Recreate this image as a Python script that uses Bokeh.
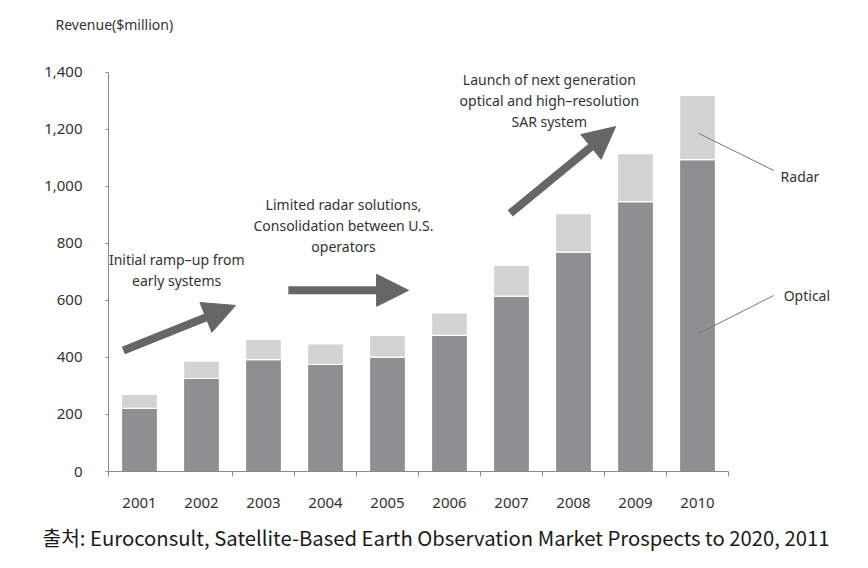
from bokeh.plotting import figure
from bokeh.models import Range1d, FixedTicker, NumeralTickFormatter, Label, Arrow, NormalHead, ColumnDataSource, Title
from bokeh.embed import file_html
from bokeh.resources import INLINE

# ---- data ----
years = ["2001", "2002", "2003", "2004", "2005", "2006", "2007", "2008", "2009", "2010"]
optical = [221, 326, 392, 375, 401, 477, 615, 769, 946, 1093]
total = [270, 387, 463, 447, 477, 556, 722, 904, 1114, 1318]
radar = [t - o for t, o in zip(total, optical)]
y_ticks = [0, 200, 400, 600, 800, 1000, 1200, 1400]

# ---- annotation texts / placement (data units) ----
ramp_lines = ["Initial ramp\u2013up from", "early systems"]
ramp_pos = (1.10, 708)
ramp_arrow = (0.24, 424, 2.05, 582)
cons_lines = ["Limited radar solutions,", "Consolidation between U.S.", "operators"]
cons_pos = (3.79, 864)
cons_arrow = (2.90, 635, 4.84, 635)
launch_lines = ["Launch of next generation", "optical and high\u2013resolution", "SAR system"]
launch_pos = (7.11, 1302)
launch_arrow = (6.48, 905, 8.18, 1209)
radar_label = ("Radar", 10.84, 1034)
radar_leader = (9.52, 1185, 10.73, 1055)
optical_label = ("Optical", 10.89, 617)
optical_leader = (9.52, 484, 10.73, 617)
y_title = "Revenue($million)"
source_text = "출처: Euroconsult, Satellite-Based Earth Observation Market Prospects to 2020, 2011"

FONT = "Noto Sans"
TXT = "#333333"
OPT_C = "#8f8f92"
RAD_C = "#d3d3d3"
ARROW_C = "#666666"
AXIS_C = "#8a8a8a"
LINE_PX = 21

xc = [i + 0.5 for i in range(len(years))]
src = ColumnDataSource(dict(x=xc, optical=optical, total=total, radar=radar))

p = figure(width=868, height=568, x_range=Range1d(0, 12.258), y_range=Range1d(0, 1496.7),
           output_backend="svg", toolbar_location=None,
           min_border_left=108, min_border_right=0, min_border_top=44, min_border_bottom=97)
p.outline_line_color = None
p.grid.grid_line_color = None
p.background_fill_color = "white"
p.border_fill_color = "white"

p.vbar(x="x", bottom=0, top="optical", width=0.58, source=src,
       fill_color=OPT_C, line_color="white", line_width=1.2)
p.vbar(x="x", bottom="optical", top="total", width=0.58, source=src,
       fill_color=RAD_C, line_color="white", line_width=1.2)

# x axis
xa = p.xaxis[0]
xa.bounds = (0, 10)
xa.ticker = FixedTicker(ticks=xc, minor_ticks=[0, 2, 3, 4, 5, 6, 7, 8, 9, 10])
xa.major_label_overrides = {x: y for x, y in zip(xc, years)}
xa.major_tick_out = 0
xa.major_tick_in = 0
xa.minor_tick_out = 5
xa.minor_tick_in = 0
xa.minor_tick_line_color = AXIS_C
xa.axis_line_color = AXIS_C
xa.major_label_standoff = 21
xa.major_label_text_font = FONT
xa.major_label_text_font_size = "15px"
xa.major_label_text_color = TXT

# y axis
ya = p.yaxis[0]
ya.bounds = (0, 1400)
ya.ticker = FixedTicker(ticks=y_ticks, minor_ticks=[])
ya.formatter = NumeralTickFormatter(format="0,0")
ya.major_tick_out = 3
ya.major_tick_in = 0
ya.major_tick_line_color = AXIS_C
ya.minor_tick_line_color = None
ya.axis_line_color = AXIS_C
ya.major_label_standoff = 23
ya.major_label_text_font = FONT
ya.major_label_text_font_size = "15px"
ya.major_label_text_color = TXT

# arrows
for (x0, y0, x1, y1) in [ramp_arrow, cons_arrow, launch_arrow]:
    p.add_layout(Arrow(x_start=x0, y_start=y0, x_end=x1, y_end=y1,
                       line_color=ARROW_C, line_width=8,
                       end=NormalHead(size=32, fill_color=ARROW_C, line_color=ARROW_C, line_width=1)))

for (x0, y0, x1, y1) in [radar_leader, optical_leader]:
    p.add_layout(Arrow(x_start=x0, y_start=y0, x_end=x1, y_end=y1, end=None,
                       line_color="#777777", line_width=1))

for lines, (x, y) in [(ramp_lines, ramp_pos), (cons_lines, cons_pos), (launch_lines, launch_pos)]:
    n = len(lines)
    for i, line in enumerate(lines):
        p.add_layout(Label(x=x, y=y, y_offset=((n - 1) / 2 - i) * LINE_PX, text=line,
                           text_align="center", text_baseline="middle",
                           text_font=FONT, text_font_size="14px", text_color=TXT))

for txt, x, y in [radar_label, optical_label]:
    p.add_layout(Label(x=x, y=y, text=txt, text_align="left", text_baseline="middle",
                       text_font=FONT, text_font_size="14px", text_color=TXT))

p.add_layout(Title(text=y_title, align="left", offset=-53, standoff=21,
                   text_font=FONT, text_font_size="14px", text_font_style="normal",
                   text_color=TXT), "above")

p.add_layout(Title(text=source_text, align="left", offset=-66, standoff=22,
                   vertical_align="top",
                   text_font="Noto Sans CJK KR", text_font_size="20.3px", text_font_style="normal",
                   text_color="#1a1a1a"), "below")

open("out.html", "w").write(file_html(p, INLINE))
